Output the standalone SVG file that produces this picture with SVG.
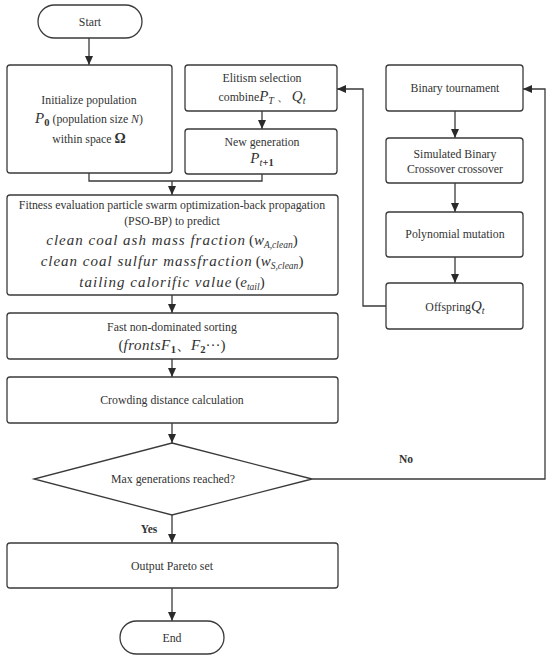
<svg xmlns="http://www.w3.org/2000/svg" width="550" height="659" viewBox="0 0 550 659">
<style>
.box{fill:#fff;stroke:#3a3a3a;stroke-width:1.3}
.ln{fill:none;stroke:#3a3a3a;stroke-width:1.3}
text{font-family:"Liberation Serif","Times New Roman",serif;font-size:11.8px;fill:#333;text-anchor:middle}
.m{font-style:italic;font-size:15px}
.mi{font-style:italic}
.b{font-weight:bold}
.lbl{font-weight:bold;font-size:11.5px}
</style>
<defs>
<marker id="ah" markerWidth="10" markerHeight="10" refX="9" refY="5" orient="auto" markerUnits="userSpaceOnUse">
<path d="M0,1 L9,5 L0,9 Z" fill="#2a2a2a"/>
</marker>
</defs>
<rect width="550" height="659" fill="#fff"/>
<g id="connectors">
<line class="ln" x1="89" y1="38" x2="89" y2="65" marker-end="url(#ah)"/>
<line class="ln" x1="262" y1="111" x2="262" y2="129" marker-end="url(#ah)"/>
<polyline class="ln" points="89,173 89,181 262,181 262,174"/>
<line class="ln" x1="172" y1="181" x2="172" y2="195" marker-end="url(#ah)"/>
<line class="ln" x1="172" y1="295" x2="172" y2="313" marker-end="url(#ah)"/>
<line class="ln" x1="172" y1="359" x2="172" y2="377" marker-end="url(#ah)"/>
<line class="ln" x1="172" y1="423" x2="172" y2="443" marker-end="url(#ah)"/>
<line class="ln" x1="172" y1="515" x2="172" y2="543" marker-end="url(#ah)"/>
<line class="ln" x1="172" y1="588" x2="172" y2="621" marker-end="url(#ah)"/>
<line class="ln" x1="455" y1="111" x2="455" y2="138" marker-end="url(#ah)"/>
<line class="ln" x1="455" y1="183" x2="455" y2="212" marker-end="url(#ah)"/>
<line class="ln" x1="455" y1="257" x2="455" y2="283" marker-end="url(#ah)"/>
<polyline class="ln" points="386,306 363,306 363,89 337,89" marker-end="url(#ah)"/>
<polyline class="ln" points="312,479 545,479 545,89 523,89" marker-end="url(#ah)"/>
<text class="lbl" x="406" y="463">No</text>
<text class="lbl" x="149" y="533">Yes</text>
</g>
<g id="start">
<rect class="box" x="38" y="5" width="104" height="33" rx="16.5"/>
<text x="90" y="26">Start</text>
</g>
<g id="init">
<rect class="box" x="7" y="65" width="165" height="108" rx="3"/>
<text x="89" y="104">Initialize population</text>
<text x="89" y="123"><tspan class="m">P</tspan><tspan class="b" font-size="10.5" dy="3">0</tspan><tspan dy="-3"> (population size </tspan><tspan class="mi">N</tspan>)</text>
<text x="89" y="143">within space <tspan class="b" font-size="14">Ω</tspan></text>
</g>
<g id="elitism">
<rect class="box" x="185" y="65" width="152" height="46" rx="3"/>
<text x="262" y="82">Elitism selection</text>
<text x="262" y="101">combine<tspan class="m">P</tspan><tspan class="mi" font-size="10" dy="3">T</tspan><tspan dy="-3"> 、 </tspan><tspan class="m">Q</tspan><tspan class="mi" font-size="10" dy="3">t</tspan></text>
</g>
<g id="newgen">
<rect class="box" x="185" y="129" width="152" height="45" rx="3"/>
<text x="262" y="146">New generation</text>
<text x="262" y="163"><tspan class="m">P</tspan><tspan font-size="10.5" dy="3"><tspan class="mi">t</tspan><tspan class="b">+1</tspan></tspan></text>
</g>
<g id="fitness">
<rect class="box" x="7" y="195" width="331" height="100" rx="3"/>
<text x="172" y="209" font-size="11.6">Fitness evaluation particle swarm optimization-back propagation</text>
<text x="172" y="225">(PSO-BP) to predict</text>
<text x="172" y="245"><tspan class="m" letter-spacing="1">clean coal ash mass fraction</tspan> <tspan font-size="15">(</tspan><tspan class="m">w</tspan><tspan class="mi" font-size="9.5" dy="3">A,clean</tspan><tspan font-size="15" dy="-3">)</tspan></text>
<text x="172" y="266"><tspan class="m" letter-spacing="1">clean coal sulfur massfraction</tspan> <tspan font-size="15">(</tspan><tspan class="m">w</tspan><tspan class="mi" font-size="9.5" dy="3">S,clean</tspan><tspan font-size="15" dy="-3">)</tspan></text>
<text x="172" y="287"><tspan class="m" letter-spacing="1">tailing calorific value</tspan> <tspan font-size="15">(</tspan><tspan class="m">e</tspan><tspan class="mi" font-size="9.5" dy="3">tail</tspan><tspan font-size="15" dy="-3">)</tspan></text>
</g>
<g id="sorting">
<rect class="box" x="7" y="313" width="331" height="46" rx="3"/>
<text x="172" y="331">Fast non-dominated sorting</text>
<text x="172" y="350"><tspan font-size="15">(</tspan><tspan class="m" letter-spacing="0.5">frontsF</tspan><tspan class="b" font-size="10.5" dy="3">1</tspan><tspan font-size="15" dy="-3">、</tspan><tspan class="m">F</tspan><tspan class="b" font-size="10.5" dy="3">2</tspan><tspan font-size="15" dy="-3">···)</tspan></text>
</g>
<g id="crowding">
<rect class="box" x="7" y="377" width="331" height="46" rx="3"/>
<text x="172" y="404">Crowding distance calculation</text>
</g>
<g id="decision">
<polygon class="box" points="172,443 312,479 172,515 34,479"/>
<text x="173" y="483">Max generations reached?</text>
</g>
<g id="output">
<rect class="box" x="7" y="543" width="331" height="45" rx="3"/>
<text x="172" y="570">Output Pareto set</text>
</g>
<g id="end">
<rect class="box" x="120" y="621" width="104" height="33" rx="16.5"/>
<text x="172" y="642">End</text>
</g>
<g id="tournament">
<rect class="box" x="386" y="65" width="137" height="46" rx="3"/>
<text x="455" y="92">Binary tournament</text>
</g>
<g id="crossover">
<rect class="box" x="386" y="138" width="137" height="45" rx="3"/>
<text x="455" y="158">Simulated Binary</text>
<text x="455" y="173">Crossover crossover</text>
</g>
<g id="mutation">
<rect class="box" x="386" y="212" width="137" height="45" rx="3"/>
<text x="455" y="238">Polynomial mutation</text>
</g>
<g id="offspring">
<rect class="box" x="386" y="283" width="137" height="46" rx="3"/>
<text x="455" y="311">Offspring<tspan class="m">Q</tspan><tspan class="mi" font-size="10" dy="3">t</tspan></text>
</g>
</svg>
